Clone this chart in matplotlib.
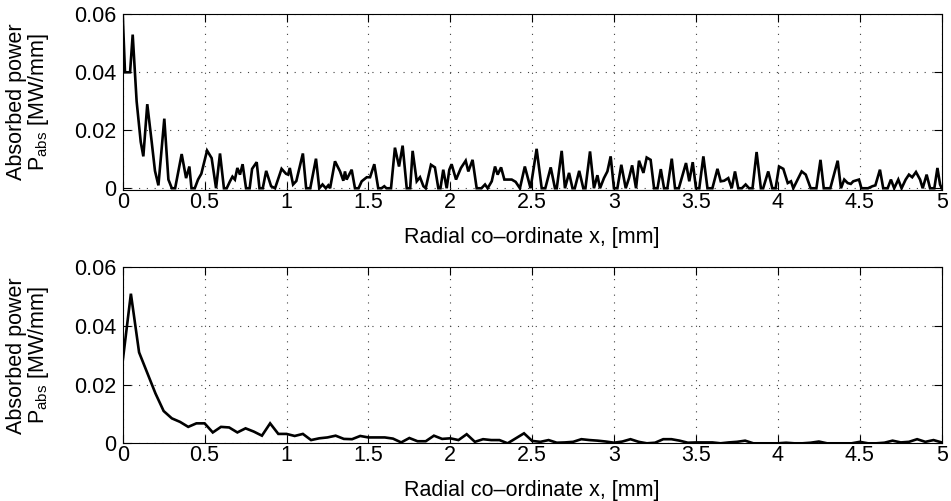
import matplotlib
matplotlib.use("Agg")
import matplotlib.pyplot as plt

plt.rcParams['font.family'] = ['Liberation Sans', 'DejaVu Sans']
plt.rcParams['mathtext.fontset'] = 'custom'
plt.rcParams['mathtext.rm'] = 'Liberation Sans'
plt.rcParams['mathtext.it'] = 'Liberation Sans'

# ---------------- data ----------------
x_top = [0.000, 0.014, 0.045, 0.061, 0.085, 0.110, 0.126, 0.150, 0.177, 0.197, 0.218, 0.254, 0.279, 0.300,
         0.320, 0.360, 0.387, 0.407, 0.420, 0.440, 0.460, 0.480, 0.515, 0.543, 0.570, 0.594, 0.618, 0.635,
         0.655, 0.670, 0.685, 0.700, 0.716, 0.732, 0.753, 0.775, 0.790, 0.818, 0.835, 0.855, 0.876, 0.906,
         0.930, 0.970, 0.997, 1.010, 1.020, 1.040, 1.060, 1.100, 1.120, 1.145, 1.180, 1.200, 1.220, 1.240,
         1.255, 1.266, 1.296, 1.327, 1.347, 1.357, 1.367, 1.398, 1.418, 1.440, 1.459, 1.490, 1.510, 1.536,
         1.560, 1.580, 1.597, 1.610, 1.638, 1.662, 1.687, 1.709, 1.734, 1.755, 1.770, 1.795, 1.815, 1.836,
         1.850, 1.882, 1.906, 1.927, 1.940, 1.957, 1.978, 1.994, 2.008, 2.035, 2.065, 2.094, 2.110, 2.136,
         2.161, 2.190, 2.212, 2.228, 2.253, 2.273, 2.289, 2.310, 2.330, 2.355, 2.375, 2.399, 2.425, 2.455,
         2.490, 2.527, 2.558, 2.580, 2.613, 2.639, 2.650, 2.680, 2.700, 2.725, 2.746, 2.760, 2.787, 2.812,
         2.825, 2.853, 2.877, 2.898, 2.914, 2.938, 2.959, 2.979, 2.999, 3.020, 3.044, 3.071, 3.091, 3.110,
         3.134, 3.152, 3.179, 3.199, 3.223, 3.244, 3.265, 3.285, 3.305, 3.325, 3.352, 3.372, 3.395, 3.439,
         3.459, 3.480, 3.500, 3.520, 3.545, 3.570, 3.600, 3.631, 3.651, 3.672, 3.697, 3.718, 3.738, 3.758,
         3.780, 3.803, 3.824, 3.845, 3.870, 3.896, 3.910, 3.941, 3.966, 3.986, 4.007, 4.033, 4.060, 4.080,
         4.094, 4.120, 4.145, 4.170, 4.200, 4.235, 4.260, 4.280, 4.320, 4.365, 4.385, 4.405, 4.426, 4.445,
         4.460, 4.495, 4.510, 4.550, 4.577, 4.595, 4.623, 4.643, 4.670, 4.690, 4.710, 4.735, 4.755, 4.780,
         4.800, 4.820, 4.843, 4.868, 4.884, 4.908, 4.929, 4.955, 4.974, 4.990, 5.000]
y_top = [0.060, 0.040, 0.040, 0.053, 0.030, 0.016, 0.011, 0.029, 0.016, 0.006, 0.001, 0.024, 0.003, 0.000,
         0.000, 0.0118, 0.0035, 0.0075, 0.000, 0.000, 0.003, 0.005, 0.013, 0.0104, 0.000, 0.012, 0.000, 0.000,
         0.0024, 0.004, 0.003, 0.007, 0.0047, 0.0083, 0.000, 0.000, 0.0067, 0.009, 0.000, 0.000, 0.006, 0.0007,
         0.000, 0.0067, 0.005, 0.0047, 0.007, 0.0013, 0.0025, 0.012, 0.000, 0.000, 0.0102, 0.000, 0.0013, 0.000,
         0.001, 0.000, 0.0093, 0.0058, 0.0026, 0.0058, 0.003, 0.0064, 0.000, 0.000, 0.0024, 0.0038, 0.0038, 0.0083,
         0.000, 0.000, 0.0007, 0.000, 0.000, 0.014, 0.0075, 0.0147, 0.000, 0.000, 0.0129, 0.0024, 0.0038, 0.0007,
         0.000, 0.0081, 0.0072, 0.000, 0.000, 0.0064, 0.000, 0.0064, 0.0083, 0.003, 0.007, 0.0095, 0.0058, 0.0098,
         0.000, 0.000, 0.0013, 0.000, 0.0024, 0.0075, 0.0047, 0.0072, 0.003, 0.003, 0.003, 0.0022, 0.000, 0.0075,
         0.000, 0.0136, 0.000, 0.000, 0.0072, 0.000, 0.000, 0.0129, 0.000, 0.0053, 0.000, 0.000, 0.006, 0.000,
         0.000, 0.0127, 0.000, 0.0045, 0.000, 0.0035, 0.0058, 0.011, 0.000, 0.000, 0.0081, 0.000, 0.0035, 0.0079,
         0.000, 0.0095, 0.0053, 0.0106, 0.0098, 0.000, 0.000, 0.0066, 0.000, 0.000, 0.0102, 0.000, 0.000, 0.0087,
         0.0024, 0.009, 0.000, 0.000, 0.011, 0.000, 0.000, 0.0067, 0.0024, 0.0026, 0.0035, 0.000, 0.0058, 0.000,
         0.000, 0.0013, 0.000, 0.000, 0.0125, 0.000, 0.000, 0.0058, 0.000, 0.000, 0.0075, 0.0067, 0.0018, 0.0024,
         0.000, 0.003, 0.0058, 0.0047, 0.000, 0.000, 0.0098, 0.000, 0.000, 0.0095, 0.000, 0.003, 0.0018, 0.0015,
         0.0024, 0.003, 0.000, 0.000, 0.0007, 0.001, 0.0064, 0.000, 0.000, 0.003, 0.000, 0.003, 0.000, 0.003,
         0.0047, 0.0038, 0.0056, 0.003, 0.000, 0.0047, 0.000, 0.000, 0.007, 0.0013, 0.000]

x_bot = [0.00, 0.05, 0.10, 0.15, 0.20, 0.25, 0.30, 0.35, 0.40, 0.45, 0.50, 0.55, 0.60, 0.65, 0.70, 0.75,
         0.80, 0.85, 0.90, 0.95, 1.00, 1.05, 1.10, 1.15, 1.20, 1.25, 1.30, 1.35, 1.40, 1.45, 1.50, 1.55,
         1.60, 1.65, 1.70, 1.75, 1.80, 1.85, 1.90, 1.95, 2.00, 2.05, 2.10, 2.15, 2.20, 2.25, 2.30, 2.35,
         2.40, 2.45, 2.50, 2.55, 2.60, 2.65, 2.70, 2.75, 2.80, 2.85, 2.90, 2.95, 3.00, 3.05, 3.10, 3.15,
         3.20, 3.25, 3.30, 3.35, 3.40, 3.45, 3.50, 3.55, 3.60, 3.65, 3.70, 3.75, 3.80, 3.85, 3.90, 3.95,
         4.00, 4.05, 4.10, 4.15, 4.20, 4.25, 4.30, 4.35, 4.40, 4.45, 4.50, 4.55, 4.60, 4.65, 4.70, 4.75,
         4.80, 4.85, 4.90, 4.95, 5.00]
y_bot = [0.028, 0.051, 0.031, 0.024, 0.017, 0.011, 0.0085, 0.0073, 0.0056, 0.0068, 0.0068, 0.0037, 0.0056,
         0.0054, 0.0037, 0.0051, 0.0040, 0.0026, 0.0068, 0.0032, 0.0032, 0.0025, 0.0032, 0.0011, 0.0017, 0.0020,
         0.0026, 0.0015, 0.0014, 0.0025, 0.0020, 0.0020, 0.0020, 0.0016, 0.0003, 0.0018, 0.0007, 0.0007, 0.0026,
         0.0015, 0.0017, 0.0011, 0.0031, 0.0005, 0.0014, 0.0011, 0.0011, 0.0000, 0.0017, 0.0034, 0.0008, 0.0005,
         0.0011, 0.0002, 0.0003, 0.0005, 0.0014, 0.0011, 0.0009, 0.0006, 0.0002, 0.0006, 0.0014, 0.0005, 0.0000,
         0.0002, 0.0014, 0.0014, 0.0009, 0.0002, 0.0003, 0.0003, 0.0003, 0.0000, 0.0003, 0.0005, 0.0009, 0.0000,
         0.0000, 0.0000, 0.0000, 0.0002, 0.0000, 0.0000, 0.0002, 0.0006, 0.0000, 0.0000, 0.0000, 0.0000, 0.0005,
         0.0000, 0.0000, 0.0002, 0.0009, 0.0003, 0.0005, 0.0014, 0.0005, 0.0011, 0.0003]

x_ticks = [0, 0.5, 1, 1.5, 2, 2.5, 3, 3.5, 4, 4.5, 5]
x_ticklabels = ['0', '0.5', '1', '1.5', '2', '2.5', '3', '3.5', '4', '4.5', '5']
y_ticks = [0, 0.02, 0.04, 0.06]
y_ticklabels = ['0', '0.02', '0.04', '0.06']

xlabel = 'Radial co\u2013ordinate x, [mm]'
ylabel = 'Absorbed power\nP$_{\\mathrm{abs}}$ [MW/mm]'

# ---------------- figure ----------------
W, H = 951, 501
fig = plt.figure(figsize=(W / 100, H / 100), dpi=100)
FS = 15.5

def make_axes(bottom_px, top_px):
    left, right = 122.7, 941.7
    return fig.add_axes([left / W, (H - bottom_px) / H, (right - left) / W, (bottom_px - top_px) / H])

ax1 = make_axes(190.0, 14.3)
ax2 = make_axes(443.3, 267.3)

for ax, xs, ys, ylim in [(ax1, x_top, y_top, (-0.0006, 0.06)), (ax2, x_bot, y_bot, (0, 0.06))]:
    ax.plot(xs, ys, color='black', lw=1.9, solid_joinstyle='miter')
    ax.set_xlim(0, 5)
    ax.set_ylim(*ylim)
    ax.set_xticks(x_ticks)
    ax.set_xticklabels(x_ticklabels)
    ax.set_yticks(y_ticks)
    ax.set_yticklabels(y_ticklabels)
    ax.tick_params(axis='both', direction='in', length=5.5, width=0.8, labelsize=FS,
                   top=True, right=True, colors='black')
    ax.tick_params(axis='x', pad=1.5)
    ax.tick_params(axis='y', pad=4.8)
    ax.grid(True, color='0.25', linestyle=(0, (1, 6)), linewidth=0.8)
    for s in ax.spines.values():
        s.set_linewidth(0.8)
        s.set_color('black')
    ax.set_xlabel(xlabel, fontsize=FS, va='top')
    ax.xaxis.set_label_coords(0.5, -(226.6 - 190.0) / 176.0)
    ax.set_ylabel(ylabel, fontsize=FS, linespacing=0.95)
    ax.yaxis.set_label_coords(-0.088, 0.5)

fig.savefig('out.png', dpi=100)
